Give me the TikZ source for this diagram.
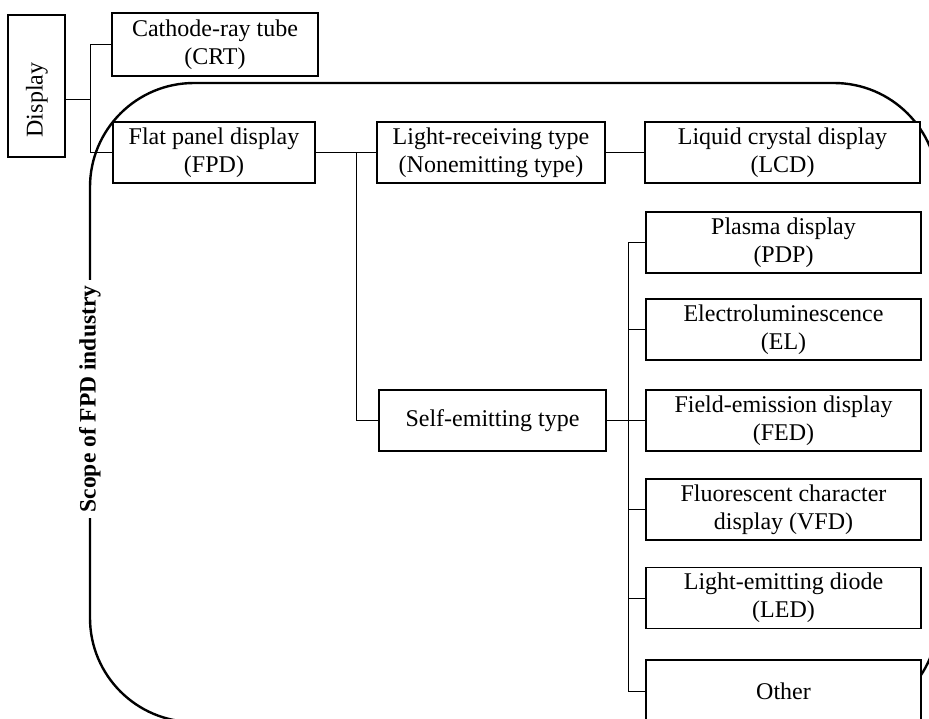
\documentclass[tikz,border=0pt]{standalone}
\usepackage{fontspec}
\setmainfont{Liberation Serif}
\usetikzlibrary{positioning}

\begin{document}
\begin{tikzpicture}[x=1pt,y=-1pt,
    box/.style={draw,line width=1.3pt,fill=white,align=center,inner sep=2pt,
      minimum height=61pt,font=\fontsize{24}{28}\selectfont},
    wbox/.style={box,minimum width=275pt},
    link/.style={line width=0.7pt}]
    \useasboundingbox (0,0) rectangle (929,718);
    \clip (0,0) rectangle (929,718);

    % scope of the FPD industry
    \draw[line width=2.4pt,rounded corners=104pt] (90,83) rectangle (938,722);
    \node[rotate=90,fill=white,inner sep=6pt,font=\fontsize{23.5}{28}\selectfont\bfseries] (scope) at (90,399) {Scope of FPD industry};

    \node[box,minimum width=57pt,minimum height=142pt] (display) at (36.5,86) {};
    \node[rotate=90,font=\fontsize{24}{28}\selectfont] (displaytext) at (37,100) {Display};

    \node[box,minimum width=206pt,minimum height=63pt] (crt) at (215,44.5) {Cathode-ray tube\\(CRT)};
    \node[box,minimum width=202pt] (fpd) at (214,152.5) {Flat panel display\\(FPD)};
    \node[box,minimum width=228pt] (receiving) at (491,152.5) {Light-receiving type\\(Nonemitting type)};
    \node[wbox] (lcd) at (782.5,152.5) {Liquid crystal display\\(LCD)};
    \node[box,minimum width=227pt] (selfemit) at (492.5,420.5) {Self-emitting type};

    \node[wbox] (pdp) at (783.5,242.5) {Plasma display\\(PDP)};
    \node[wbox] (el) at (783.5,329.5) {Electroluminescence\\(EL)};
    \node[wbox] (fed) at (783.5,420.5) {Field-emission display\\(FED)};
    \node[wbox] (vfd) at (783.5,509.5) {Fluorescent character\\display (VFD)};
    \node[wbox] (led) at (783.5,598) {Light-emitting diode\\(LED)};
    \node[wbox,minimum height=62pt] (other) at (783.5,691) {Other};

    % tree lines
    \coordinate (dj) at (90,99);
    \coordinate (fj) at (356,152.5);
    \coordinate (sj) at (628,420.5);
    \draw[link] (display.east |- dj) -- (dj);
    \draw[link] (crt.west -| dj) -- (crt.west);
    \draw[link] (crt.west -| dj) -- (fpd.west -| dj) -- (fpd.west);
    \draw[link] (fpd) -- (receiving);
    \draw[link] (receiving) -- (lcd);
    \draw[link] (fj) |- (selfemit.west);
    \draw[link] (selfemit.east) -- (sj);
    \draw[link] (pdp.west -| sj) -- (other.west -| sj);
    \foreach \n in {pdp,el,fed,vfd,led,other}
      \draw[link] (\n.west -| sj) -- (\n.west);
\end{tikzpicture}
\end{document}
